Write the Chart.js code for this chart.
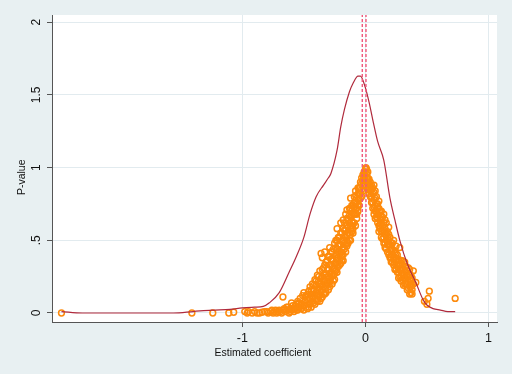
<!DOCTYPE html>
<html>
<head>
<meta charset="utf-8">
<script src="https://cdn.jsdelivr.net/npm/chart.js@4"></script>
<style>
  html, body { margin: 0; padding: 0; background: #e8f0f2; }
</style>
</head>
<body>
<canvas id="plot" width="512" height="374"></canvas>
<script>
// estimated coefficient vs p-value, one [x, y] pair per estimate
const estimates = [
  [-2.47, 0.0], [-1.41, 0.0], [-1.24, 0.0], [-1.11, 0.0], [-1.07, 0.005], [-0.98, 0.01], [-0.96, 0.0],
  [-0.95, 0.01], [-0.92, 0.0], [-0.88, 0.0], [-0.84, 0.005], [-0.8, 0.01], [-0.77, 0.01], [-0.75, 0.0],
  [-0.73, 0.02], [-0.71, 0.01], [-0.7, 0.02], [-0.68, 0.0], [-0.67, 0.11], [-0.66, 0.02], [-0.65, 0.01],
  [-0.64, 0.04], [-0.63, 0.02], [-0.62, 0.0], [-0.61, 0.03], [-0.6, 0.07], [-0.6, 0.02], [-0.59, 0.05],
  [-0.58, 0.01], [-0.57, 0.03], [-0.56, 0.06], [-0.55, 0.02], [-0.55, 0.08], [-0.54, 0.04], [-0.53, 0.1],
  [-0.52, 0.03], [-0.52, 0.06], [-0.51, 0.12], [-0.5, 0.14], [-0.5, 0.05], [-0.5, 0.02], [-0.49, 0.09],
  [-0.48, 0.07], [-0.48, 0.12], [-0.47, 0.03], [-0.46, 0.15], [-0.46, 0.06], [-0.45, 0.1], [-0.45, 0.18],
  [-0.44, 0.04], [-0.44, 0.13], [-0.43, 0.08], [-0.43, 0.2], [-0.42, 0.16], [-0.42, 0.11], [-0.41, 0.06],
  [-0.41, 0.23], [-0.4, 0.14], [-0.4, 0.19], [-0.4, 0.09], [-0.39, 0.26], [-0.39, 0.12], [-0.38, 0.17],
  [-0.38, 0.22], [-0.37, 0.08], [-0.37, 0.29], [-0.36, 0.41], [-0.36, 0.14], [-0.36, 0.2], [-0.35, 0.38],
  [-0.35, 0.25], [-0.35, 0.11], [-0.34, 0.18], [-0.34, 0.31], [-0.33, 0.42], [-0.33, 0.22], [-0.33, 0.13],
  [-0.32, 0.27], [-0.32, 0.35], [-0.32, 0.17], [-0.31, 0.3], [-0.31, 0.21], [-0.3, 0.39], [-0.3, 0.25],
  [-0.3, 0.16], [-0.29, 0.33], [-0.29, 0.45], [-0.29, 0.22], [-0.28, 0.28], [-0.28, 0.37], [-0.27, 0.2],
  [-0.27, 0.32], [-0.27, 0.42], [-0.26, 0.26], [-0.26, 0.36], [-0.25, 0.48], [-0.25, 0.3], [-0.25, 0.23],
  [-0.24, 0.5], [-0.24, 0.4], [-0.24, 0.34], [-0.23, 0.58], [-0.23, 0.28], [-0.23, 0.44], [-0.22, 0.38],
  [-0.22, 0.32], [-0.22, 0.52], [-0.21, 0.47], [-0.21, 0.36], [-0.2, 0.62], [-0.2, 0.42], [-0.2, 0.34],
  [-0.2, 0.55], [-0.19, 0.5], [-0.19, 0.4], [-0.18, 0.64], [-0.18, 0.45], [-0.18, 0.36], [-0.17, 0.57],
  [-0.17, 0.48], [-0.16, 0.52], [-0.16, 0.42], [-0.16, 0.68], [-0.15, 0.71], [-0.15, 0.6], [-0.15, 0.46],
  [-0.14, 0.55], [-0.14, 0.64], [-0.13, 0.5], [-0.13, 0.72], [-0.12, 0.79], [-0.12, 0.6], [-0.12, 0.5],
  [-0.11, 0.67], [-0.11, 0.56], [-0.1, 0.74], [-0.1, 0.62], [-0.1, 0.55], [-0.09, 0.8], [-0.09, 0.68],
  [-0.08, 0.6], [-0.08, 0.76], [-0.08, 0.84], [-0.07, 0.65], [-0.07, 0.72], [-0.06, 0.86], [-0.06, 0.78],
  [-0.06, 0.7], [-0.05, 0.82], [-0.05, 0.74], [-0.04, 0.9], [-0.04, 0.79], [-0.03, 0.85], [-0.03, 0.93],
  [-0.02, 0.88], [-0.02, 0.95], [-0.01, 0.92], [-0.01, 0.97], [0.0, 0.99], [0.0, 0.94], [0.005, 1.0],
  [0.01, 0.96], [0.01, 0.9], [0.02, 0.93], [0.02, 0.86], [0.03, 0.88], [0.03, 0.82], [0.04, 0.9],
  [0.04, 0.8], [0.05, 0.85], [0.05, 0.76], [0.06, 0.82], [0.06, 0.72], [0.07, 0.88], [0.07, 0.68],
  [0.07, 0.78], [0.08, 0.74], [0.08, 0.65], [0.09, 0.8], [0.09, 0.7], [0.1, 0.62], [0.1, 0.75],
  [0.1, 0.68], [0.11, 0.56], [0.11, 0.72], [0.12, 0.64], [0.12, 0.58], [0.13, 0.7], [0.13, 0.52],
  [0.14, 0.6], [0.14, 0.66], [0.15, 0.48], [0.15, 0.57], [0.15, 0.68], [0.16, 0.54], [0.16, 0.45],
  [0.17, 0.62], [0.17, 0.5], [0.18, 0.42], [0.18, 0.56], [0.19, 0.59], [0.19, 0.47], [0.2, 0.38],
  [0.2, 0.52], [0.21, 0.44], [0.21, 0.35], [0.22, 0.48], [0.22, 0.4], [0.23, 0.5], [0.23, 0.33],
  [0.24, 0.42], [0.24, 0.3], [0.25, 0.37], [0.25, 0.46], [0.26, 0.28], [0.26, 0.4], [0.27, 0.33],
  [0.27, 0.24], [0.28, 0.45], [0.28, 0.3], [0.29, 0.36], [0.29, 0.22], [0.3, 0.27], [0.3, 0.33],
  [0.31, 0.19], [0.31, 0.3], [0.32, 0.24], [0.32, 0.35], [0.33, 0.2], [0.33, 0.28], [0.34, 0.16],
  [0.34, 0.25], [0.35, 0.21], [0.35, 0.31], [0.36, 0.18], [0.36, 0.26], [0.37, 0.14], [0.37, 0.22],
  [0.38, 0.16], [0.39, 0.29], [0.39, 0.2], [0.41, 0.21], [0.48, 0.08], [0.5, 0.06], [0.51, 0.1],
  [0.52, 0.15], [0.73, 0.1],
  [-0.9, 0.01], [-0.86, 0.0], [-0.82, 0.01], [-0.79, 0.0], [-0.76, 0.02], [-0.74, 0.01], [-0.72, 0.0],
  [-0.69, 0.01], [-0.66, 0.03], [-0.63, 0.04], [-0.61, 0.01], [-0.59, 0.03], [-0.57, 0.05], [-0.56, 0.02],
  [-0.54, 0.07], [-0.53, 0.05], [-0.51, 0.04], [-0.49, 0.11], [-0.47, 0.09], [-0.47, 0.13], [-0.46, 0.04],
  [-0.45, 0.07], [-0.44, 0.16], [-0.43, 0.11], [-0.42, 0.07], [-0.42, 0.19], [-0.41, 0.13], [-0.4, 0.22],
  [-0.39, 0.08], [-0.39, 0.16], [-0.38, 0.12], [-0.38, 0.25], [-0.37, 0.18], [-0.37, 0.12], [-0.36, 0.24],
  [-0.36, 0.1], [-0.35, 0.16], [-0.35, 0.3], [-0.34, 0.22], [-0.34, 0.13], [-0.33, 0.26], [-0.33, 0.33],
  [-0.32, 0.2], [-0.32, 0.14], [-0.31, 0.25], [-0.31, 0.36], [-0.3, 0.2], [-0.3, 0.3], [-0.29, 0.18],
  [-0.29, 0.27], [-0.29, 0.39], [-0.28, 0.24], [-0.28, 0.33], [-0.28, 0.42], [-0.27, 0.27], [-0.27, 0.37],
  [-0.26, 0.22], [-0.26, 0.31], [-0.26, 0.44], [-0.25, 0.34], [-0.25, 0.27], [-0.24, 0.29], [-0.24, 0.45],
  [-0.23, 0.33], [-0.23, 0.38], [-0.23, 0.5], [-0.22, 0.42], [-0.22, 0.46], [-0.21, 0.33], [-0.21, 0.4],
  [-0.21, 0.52], [-0.2, 0.38], [-0.2, 0.47], [-0.19, 0.36], [-0.19, 0.44], [-0.19, 0.55], [-0.18, 0.4],
  [-0.18, 0.5], [-0.18, 0.58], [-0.17, 0.44], [-0.17, 0.53], [-0.17, 0.62], [-0.16, 0.47], [-0.16, 0.57],
  [-0.15, 0.5], [-0.15, 0.54], [-0.15, 0.65], [-0.14, 0.48], [-0.14, 0.59], [-0.13, 0.55], [-0.13, 0.62],
  [-0.13, 0.67], [-0.12, 0.54], [-0.12, 0.66], [-0.12, 0.72], [-0.11, 0.6], [-0.11, 0.63], [-0.11, 0.74],
  [-0.1, 0.58], [-0.1, 0.68], [-0.09, 0.62], [-0.09, 0.73], [-0.09, 0.76], [-0.08, 0.68], [-0.08, 0.72],
  [-0.07, 0.68], [-0.07, 0.76], [-0.07, 0.81], [-0.06, 0.74], [-0.06, 0.82], [-0.05, 0.78], [-0.05, 0.86],
  [-0.04, 0.82], [-0.04, 0.86], [-0.03, 0.89], [-0.03, 0.8], [-0.02, 0.84], [-0.02, 0.91], [-0.01, 0.88],
  [-0.01, 0.94], [0.0, 0.97], [0.0, 0.91], [0.01, 0.99], [0.01, 0.93], [0.02, 0.97], [0.02, 0.9],
  [0.03, 0.92], [0.03, 0.85], [0.04, 0.84], [0.04, 0.87], [0.05, 0.8], [0.05, 0.88], [0.06, 0.76],
  [0.06, 0.86], [0.07, 0.73], [0.07, 0.83], [0.08, 0.7], [0.08, 0.79], [0.08, 0.84], [0.09, 0.66],
  [0.09, 0.75], [0.1, 0.72], [0.1, 0.65], [0.11, 0.6], [0.11, 0.67], [0.11, 0.77], [0.12, 0.61],
  [0.12, 0.7], [0.13, 0.56], [0.13, 0.62], [0.13, 0.66], [0.14, 0.51], [0.14, 0.56], [0.15, 0.52],
  [0.15, 0.62], [0.16, 0.48], [0.16, 0.58], [0.16, 0.64], [0.17, 0.44], [0.17, 0.54], [0.18, 0.47],
  [0.18, 0.52], [0.19, 0.4], [0.19, 0.5], [0.19, 0.54], [0.2, 0.43], [0.2, 0.47], [0.21, 0.38],
  [0.21, 0.48], [0.22, 0.35], [0.22, 0.44], [0.23, 0.37], [0.23, 0.43], [0.24, 0.34], [0.24, 0.38],
  [0.25, 0.3], [0.25, 0.41], [0.26, 0.32], [0.26, 0.36], [0.27, 0.28], [0.27, 0.37], [0.28, 0.25],
  [0.28, 0.34], [0.29, 0.26], [0.29, 0.31], [0.3, 0.23], [0.3, 0.36], [0.31, 0.24], [0.31, 0.27],
  [0.32, 0.2], [0.32, 0.29], [0.33, 0.24], [0.33, 0.32], [0.34, 0.2], [0.34, 0.29], [0.35, 0.17],
  [0.35, 0.25], [0.36, 0.22], [0.36, 0.3], [0.37, 0.18], [0.37, 0.26], [0.38, 0.2], [0.38, 0.24],
  [0.36, 0.13], [0.38, 0.13]
];

// density curve of the estimates
const densityX = [-2.47, -2.3, -2.0, -1.8, -1.56, -1.4, -1.25, -1.1, -1.0, -0.9, -0.83, -0.78, -0.7,
  -0.62, -0.56, -0.5, -0.45, -0.4, -0.34, -0.3, -0.28, -0.23, -0.2, -0.17, -0.13, -0.1, -0.06, -0.04,
  0.0, 0.03, 0.065, 0.1, 0.15, 0.2, 0.24, 0.28, 0.34, 0.41, 0.47, 0.5, 0.55, 0.61, 0.67, 0.73];
const densityY = [0.01, 0.0, 0.0, 0.0, 0.0, 0.01, 0.02, 0.025, 0.035, 0.04, 0.045, 0.07, 0.14,
  0.28, 0.39, 0.52, 0.68, 0.8, 0.88, 0.93, 0.96, 1.12, 1.28, 1.4, 1.52, 1.58, 1.63, 1.63,
  1.55, 1.45, 1.31, 1.18, 1.05, 0.79, 0.64, 0.5, 0.34, 0.21, 0.09, 0.055, 0.03, 0.02, 0.01, 0.01];

const refLines = [-0.025, 0.005];
const xTicks = [-1, 0, 1];
const yTicks = [0, 0.5, 1, 1.5, 2];
const xRange = [-2.547, 1.07];
const yRange = [-0.062, 2.05];

const bgPlugin = {
  id: 'bg',
  beforeDraw(chart) {
    const { ctx, chartArea: a } = chart;
    ctx.save();
    ctx.fillStyle = '#e8f0f2';
    ctx.fillRect(0, 0, chart.width, chart.height);
    ctx.fillStyle = '#ffffff';
    ctx.fillRect(a.left, a.top, a.right - a.left, a.bottom - a.top);
    ctx.restore();
  }
};

const datasets = [
  {
    data: estimates.map(([x, y]) => ({ x, y })),
    showLine: false,
    pointStyle: 'circle',
    pointRadius: 2.9,
    pointBorderWidth: 1.5,
    pointBorderColor: '#fd8a0c',
    pointBackgroundColor: 'rgba(0,0,0,0)',
    order: 2
  },
  {
    data: densityX.map((x, i) => ({ x, y: densityY[i] })),
    showLine: true,
    borderColor: '#b02a3c',
    borderWidth: 1.2,
    pointRadius: 0,
    cubicInterpolationMode: 'monotone',
    order: 1
  }
];
refLines.forEach(v => {
  datasets.push({
    data: [{ x: v, y: yRange[0] }, { x: v, y: yRange[1] }],
    showLine: true,
    borderColor: '#f0587a',
    borderWidth: 1.4,
    borderDash: [3, 2],
    pointRadius: 0,
    order: 0
  });
});

const font = { family: "'Liberation Sans', Arial, sans-serif", size: 10.5 };

new Chart(document.getElementById('plot'), {
  type: 'scatter',
  data: { datasets },
  plugins: [bgPlugin],
  options: {
    responsive: false,
    animation: false,
    layout: { padding: { top: 15, right: 15, left: 0, bottom: 0 } },
    plugins: { legend: { display: false }, tooltip: { enabled: false } },
    scales: {
      x: {
        type: 'linear',
        min: xRange[0],
        max: xRange[1],
        afterBuildTicks: s => { s.ticks = xTicks.map(v => ({ value: v })); },
        afterFit: s => { s.height = 52; },
        grid: { color: '#e2ebef', tickColor: '#555', tickLength: 5, lineWidth: 1 },
        border: { color: '#555', width: 1 },
        ticks: { color: '#111', font: { ...font, size: 12.5 }, padding: 4, maxRotation: 0 },
        // trailing spaces nudge the centred title left, as in the original
        title: { display: true, text: 'Estimated coefficient\u00a0\u00a0\u00a0\u00a0\u00a0\u00a0\u00a0\u00a0', color: '#111', font, padding: { top: 0, bottom: 15 } }
      },
      y: {
        type: 'linear',
        min: yRange[0],
        max: yRange[1],
        afterBuildTicks: s => { s.ticks = yTicks.map(v => ({ value: v })); },
        afterFit: s => { s.width = 52; },
        grid: { color: '#e2ebef', tickColor: '#555', tickLength: 5, lineWidth: 1 },
        border: { color: '#555', width: 1 },
        ticks: {
          color: '#111',
          font: { ...font, size: 12 },
          padding: 2,
          minRotation: 90,
          maxRotation: 90,
          crossAlign: 'center',
          callback: v => String(v).replace(/^0\./, '.')
        },
        title: { display: true, text: 'P-value\u00a0\u00a0\u00a0\u00a0\u00a0\u00a0', color: '#111', font, padding: { top: 16, bottom: 0 } }
      }
    }
  }
});
</script>
</body>
</html>
